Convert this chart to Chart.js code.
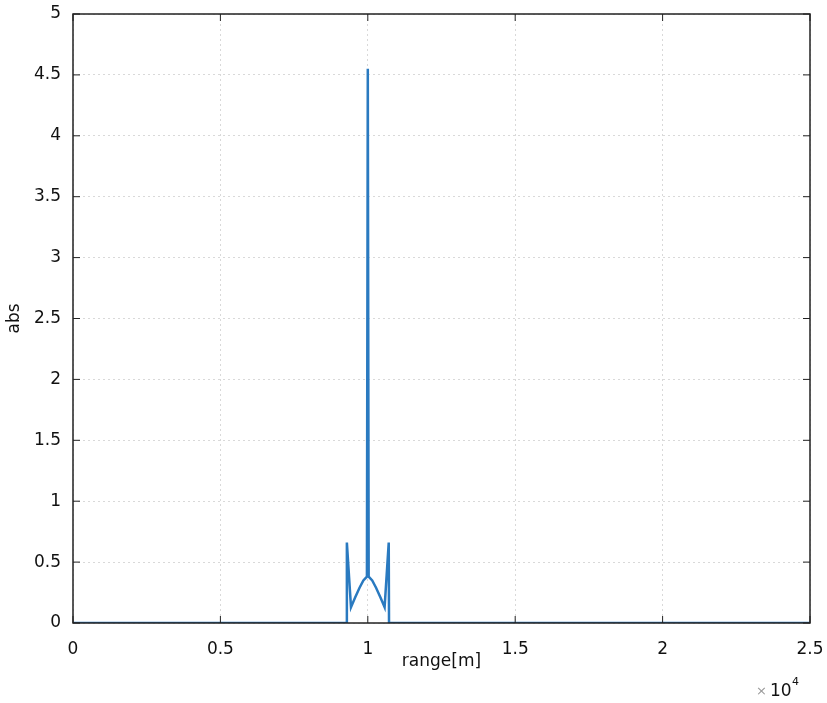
<!DOCTYPE html>
<html>
<head>
<meta charset="utf-8">
<script src="https://cdn.jsdelivr.net/npm/chart.js@4"></script>
<style>
  html, body { margin: 0; padding: 0; background: #fff; }
  #wrap { width: 827px; height: 703px; }
</style>
</head>
<body>
<div id="wrap"><canvas id="chart"></canvas></div>
<script>
// range in units of 1e4 m
var rangeX = [0, 0.928, 0.929, 0.943, 0.957, 0.972, 0.985, 0.997, 1.0, 1.003, 1.015, 1.028, 1.043, 1.057, 1.071, 1.072, 2.5];
var absY   = [0, 0,     0.66,  0.13,  0.21,  0.29,  0.35,  0.38,  4.55, 0.38,  0.35,  0.29,  0.21,  0.13,  0.66,  0,     0];
var yTicks = [0, 0.5, 1, 1.5, 2, 2.5, 3, 3.5, 4, 4.5, 5];
var xTicks = [0, 0.5, 1, 1.5, 2, 2.5];

var tickFont = { family: 'DejaVu Sans', size: 17 };

var points = rangeX.map(function (x, i) { return { x: x, y: absY[i] }; });

// box, inner ticks, and the x10^4 exponent label
var frame = {
  id: 'frame',
  afterDraw: function (chart) {
    var ctx = chart.ctx, a = chart.chartArea;
    var xs = chart.scales.x, ys = chart.scales.y;
    ctx.save();
    ctx.strokeStyle = '#222';
    ctx.lineWidth = 1.5;
    ctx.strokeRect(a.left, a.top, a.right - a.left, a.bottom - a.top);
    ctx.lineWidth = 1;
    ctx.beginPath();
    xTicks.forEach(function (v) {
      var px = xs.getPixelForValue(v);
      ctx.moveTo(px, a.bottom); ctx.lineTo(px, a.bottom - 7);
      ctx.moveTo(px, a.top); ctx.lineTo(px, a.top + 7);
    });
    yTicks.forEach(function (v) {
      var py = ys.getPixelForValue(v);
      ctx.moveTo(a.left, py); ctx.lineTo(a.left + 7, py);
      ctx.moveTo(a.right, py); ctx.lineTo(a.right - 7, py);
    });
    ctx.stroke();
    // exponent
    ctx.fillStyle = '#999';
    ctx.font = '13px DejaVu Sans';
    ctx.textBaseline = 'alphabetic';
    ctx.fillText('\u00d7', a.right - 54, 695);
    ctx.fillStyle = '#111';
    ctx.font = '17px DejaVu Sans';
    ctx.fillText('10', a.right - 40, 696);
    ctx.font = '11px DejaVu Sans';
    ctx.fillText('4', a.right - 18, 685);
    ctx.restore();
  }
};

new Chart(document.getElementById('chart'), {
  type: 'line',
  data: {
    datasets: [{
      data: points,
      borderColor: '#2a7ac0',
      borderWidth: 2.5,
      pointRadius: 0,
      tension: 0
    }]
  },
  options: {
    responsive: true,
    maintainAspectRatio: false,
    animation: false,
    layout: { padding: { left: 0, right: 17, top: 14, bottom: 0 } },
    plugins: { legend: { display: false }, tooltip: { enabled: false } },
    scales: {
      x: {
        type: 'linear',
        min: 0,
        max: 2.5,
        afterFit: function (s) { s.height = 80; s.paddingLeft = 0; s.paddingRight = 0; },
        afterBuildTicks: function (s) { s.ticks = xTicks.map(function (v) { return { value: v }; }); },
        grid: { color: '#d9d9d9', drawTicks: false },
        border: { display: false, dash: [2, 3] },
        ticks: { color: '#111', font: tickFont, padding: 16, maxRotation: 0, callback: function (v) { return String(v); } },
        title: { display: true, text: 'range[m]', color: '#111', font: tickFont, padding: { top: 0, bottom: 31 } }
      },
      y: {
        min: 0,
        max: 5,
        afterFit: function (s) { s.width = 73; s.paddingTop = 0; s.paddingBottom = 0; },
        afterBuildTicks: function (s) { s.ticks = yTicks.map(function (v) { return { value: v }; }); },
        grid: { color: '#d9d9d9', drawTicks: false },
        border: { display: false, dash: [2, 3] },
        ticks: { color: '#111', font: tickFont, padding: 12, callback: function (v) { return String(v); } },
        title: { display: true, text: 'abs', color: '#111', font: tickFont, padding: { top: 4, bottom: 0 } }
      }
    }
  },
  plugins: [frame]
});
</script>
</body>
</html>
